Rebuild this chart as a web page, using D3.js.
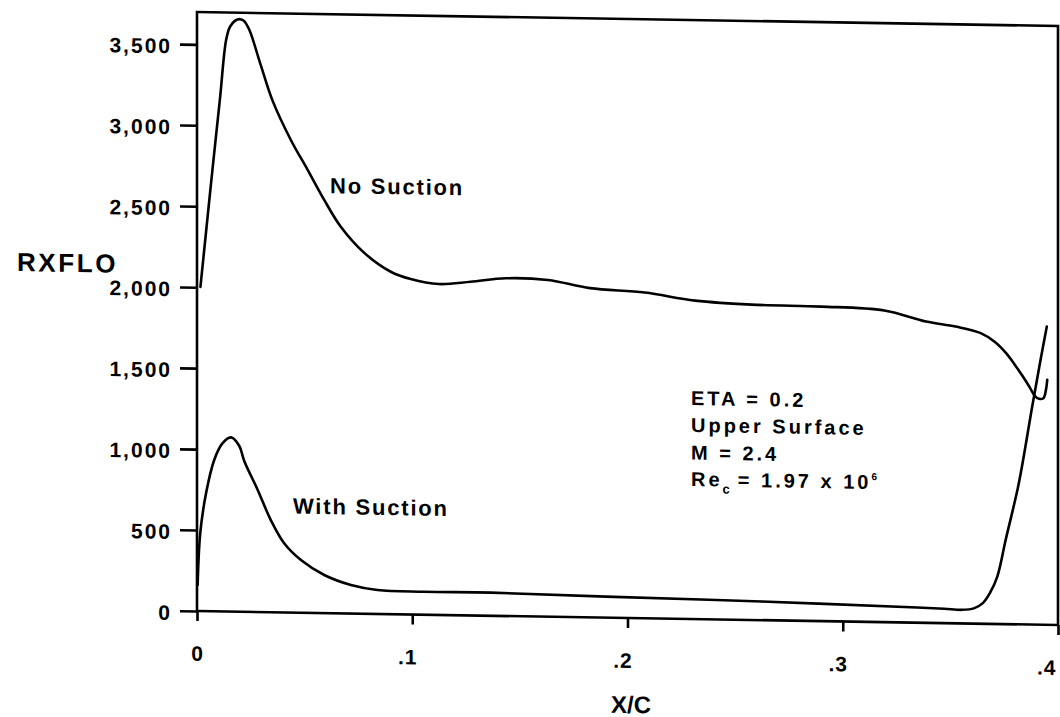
<!DOCTYPE html>
<html>
<head>
<meta charset="utf-8">
<script src="https://cdn.jsdelivr.net/npm/d3@7/dist/d3.min.js"></script>
<style>
  html, body { margin: 0; padding: 0; background: #fff; }
  svg { display: block; }
  text { font-family: "Liberation Sans", Arial, Helvetica, sans-serif; font-weight: bold; fill: #000; }
</style>
</head>
<body>
<svg id="chart" width="1060" height="717"></svg>
<script>
// ---- data ----
const xTickValues = [0, 0.1, 0.2, 0.3, 0.4];
const xTickLabels = ["0", ".1", ".2", ".3", ".4"];
const yTickValues = [0, 500, 1000, 1500, 2000, 2500, 3000, 3500];
const yTickLabels = ["0", "500", "1,000", "1,500", "2,000", "2,500", "3,000", "3,500"];

const noSuctionX = [0.0016, 0.0042, 0.0074, 0.0107, 0.0135, 0.0153, 0.0176, 0.0200, 0.0218, 0.0243,
  0.0297, 0.0351, 0.0436, 0.0514, 0.0591, 0.0668, 0.0777, 0.0900, 0.0993, 0.1123,
  0.1271, 0.1435, 0.1630, 0.1826, 0.2080, 0.2314, 0.2606, 0.2900, 0.3193, 0.3387,
  0.3524, 0.3641, 0.3707, 0.3759, 0.3800, 0.3837, 0.3870, 0.3893, 0.3912, 0.3932,
  0.3944, 0.3950];
const noSuctionY = [2002, 2342, 2756, 3170, 3528, 3611, 3649, 3660, 3650, 3595,
  3375, 3160, 2919, 2736, 2552, 2388, 2229, 2115, 2072, 2044,
  2061, 2086, 2080, 2034, 2012, 1967, 1947, 1943, 1925, 1861,
  1833, 1795, 1742, 1674, 1602, 1531, 1462, 1412, 1395, 1399,
  1451, 1513];

const withSuctionX = [0.0003, 0.0015, 0.0042, 0.0080, 0.0119, 0.0158, 0.0196, 0.0220, 0.0282, 0.0343,
  0.0405, 0.0483, 0.0591, 0.0715, 0.0838, 0.1055, 0.1364, 0.1900, 0.2623, 0.3346,
  0.3471, 0.3554, 0.3609, 0.3652, 0.3684, 0.3718, 0.3757, 0.3818, 0.3880, 0.3919,
  0.3948];
const withSuctionY = [161, 480, 728, 935, 1039, 1076, 1025, 930, 754, 569,
  427, 325, 235, 176, 148, 142, 143, 130, 115, 94,
  89, 84, 94, 129, 191, 293, 521, 872, 1346, 1636,
  1842];

const seriesLabels = ["No Suction", "With Suction"];
const yAxisTitle = "RXFLO";
const xAxisTitle = "X/C";
const noteLines = ["ETA = 0.2", "Upper Surface", "M = 2.4"];

// ---- layout ----
const padL = 197, padR = 1058, padT = 12, padB = 611;
const svg = d3.select("#chart");
// the scanned original is slightly sheared; reproduce that lean
const g = svg.append("g")
  .attr("transform", `translate(${padL},${padB}) skewY(0.93) translate(${-padL},${-padB})`);

const x = d3.scaleLinear().domain([0, 0.4]).range([padL, padR]);
const y = d3.scaleLinear().domain([0, 3700]).range([padB, padT]);

// frame
g.append("rect")
  .attr("x", padL).attr("y", padT)
  .attr("width", padR - padL).attr("height", padB - padT)
  .attr("fill", "none").attr("stroke", "#000").attr("stroke-width", 2.6);

// y axis
const yAxis = d3.axisLeft(y)
  .tickValues(yTickValues)
  .tickFormat((d, i) => yTickLabels[i])
  .tickSizeInner(17).tickSizeOuter(0).tickPadding(8);
const ya = g.append("g").attr("transform", `translate(${padL},0)`).call(yAxis);
ya.select(".domain").remove();
ya.selectAll(".tick line").attr("stroke", "#000").attr("stroke-width", 2.6);
ya.selectAll(".tick text")
  .attr("dy", "0.42em")
  .style("font-size", "21px")
  .style("letter-spacing", "2px")
  .style("font-family", "'Liberation Sans', Arial, sans-serif")
  .style("font-weight", "bold");

// x axis
const xAxis = d3.axisBottom(x)
  .tickValues(xTickValues)
  .tickFormat((d, i) => xTickLabels[i])
  .tickSizeInner(10).tickSizeOuter(0).tickPadding(25);
const xa = g.append("g").attr("transform", `translate(0,${padB})`).call(xAxis);
xa.select(".domain").remove();
xa.selectAll(".tick line").attr("stroke", "#000").attr("stroke-width", 2.6);
xa.selectAll(".tick text")
  .attr("dy", "0.71em")
  .attr("x", (d) => d === 0 ? 0 : (d >= 0.4 ? -2 : -5))
  .attr("text-anchor", (d) => d >= 0.4 ? "end" : "middle")
  .style("font-size", "21px")
  .style("letter-spacing", "1px")
  .style("font-family", "'Liberation Sans', Arial, sans-serif")
  .style("font-weight", "bold");

// curves
const line = d3.line()
  .x(d => x(d[0]))
  .y(d => y(d[1]))
  .curve(d3.curveCatmullRom.alpha(0.5));

const noSuction = noSuctionX.map((v, i) => [v, noSuctionY[i]]);
const withSuction = withSuctionX.map((v, i) => [v, withSuctionY[i]]);

g.append("path").datum(noSuction)
  .attr("d", line).attr("fill", "none")
  .attr("stroke", "#000").attr("stroke-width", 2.6)
  .attr("stroke-linejoin", "round").attr("stroke-linecap", "round");
g.append("path").datum(withSuction)
  .attr("d", line).attr("fill", "none")
  .attr("stroke", "#000").attr("stroke-width", 2.6)
  .attr("stroke-linejoin", "round").attr("stroke-linecap", "round");

// curve labels
g.append("text").attr("x", 330).attr("y", 191)
  .style("font-size", "22px").style("letter-spacing", "1.8px")
  .text(seriesLabels[0]);
g.append("text").attr("x", 293).attr("y", 512)
  .style("font-size", "22px").style("letter-spacing", "1.8px")
  .text(seriesLabels[1]);

// annotation block
const noteX = 691;
const noteBase = [397, 424, 451.5];
noteLines.forEach((t, i) => {
  g.append("text").attr("x", noteX).attr("y", noteBase[i])
    .style("font-size", "20px").style("letter-spacing", "3px")
    .text(t);
});
const re = g.append("text").attr("x", noteX).attr("y", 478)
  .style("font-size", "20px").style("letter-spacing", "3px");
re.append("tspan").text("Re");
re.append("tspan").attr("dy", 7).style("font-size", "13px").style("letter-spacing", "0px").text("c");
re.append("tspan").attr("dy", -7).attr("dx", 8).text("= 1.97 x 10");
re.append("tspan").attr("dy", -9).style("font-size", "10px").style("letter-spacing", "0px").text("6");

// axis titles
g.append("text").attr("x", 17).attr("y", 274)
  .style("font-size", "26px").style("letter-spacing", "2.6px")
  .text(yAxisTitle);
g.append("text").attr("x", 631).attr("y", 706)
  .attr("text-anchor", "middle")
  .style("font-size", "24px")
  .text(xAxisTitle);
</script>
</body>
</html>
